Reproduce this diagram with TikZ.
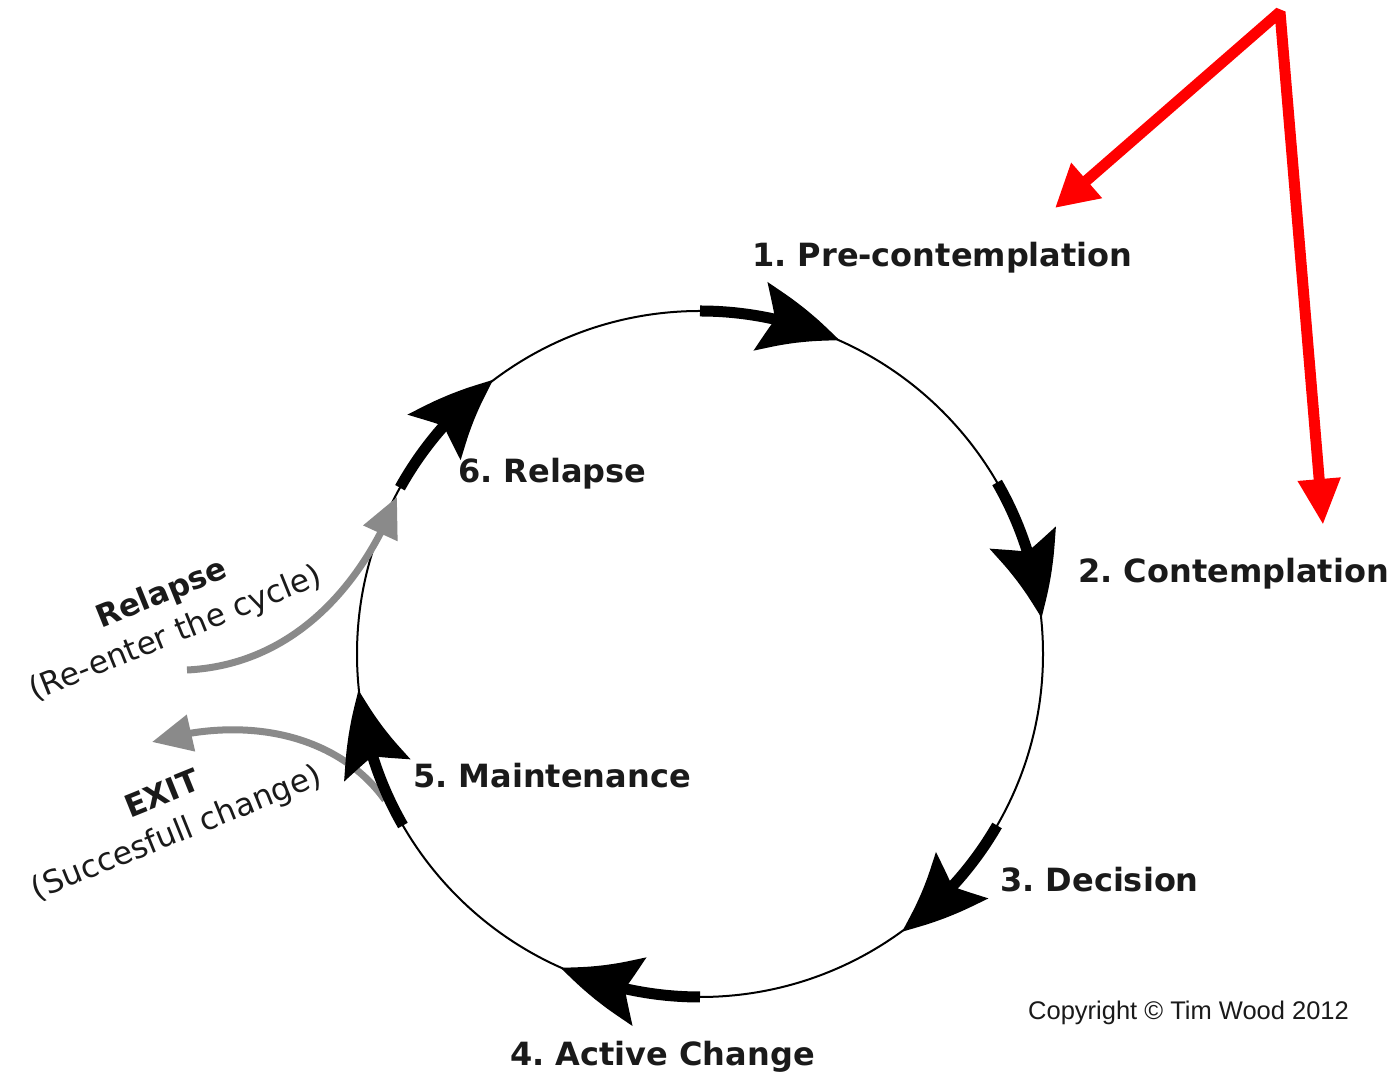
\documentclass[tikz,border=0pt]{standalone}
\usepackage{fontspec}
\setmainfont{DejaVu Sans}
\newfontfamily\copyfont{Liberation Sans}
\usetikzlibrary{arrows.meta,bending}
\definecolor{arrowgray}{HTML}{8A8A8A}
\definecolor{ink}{HTML}{1A1A1A}
\frenchspacing
\begin{document}
\begin{tikzpicture}[x=1pt,y=1pt,
  lbl/.style={font=\fontsize{32}{38}\selectfont\bfseries, text=ink, anchor=west, inner sep=0pt},
  side/.style={font=\fontsize{31.5}{36}\selectfont, text=ink, inner sep=0pt, rotate=22},
  sidebold/.style={side, font=\fontsize{31}{36}\selectfont\bfseries},
  cycarrow/.style={line width=11pt, line cap=butt, -{Stealth[length=82pt,width=68pt,inset=14pt,bend]}},
  grayarrow/.style={draw=arrowgray, line width=7pt, -{Triangle[length=40pt,width=36pt]}},
  redarrow/.style={draw=red, line width=11pt, line join=bevel, {Triangle[length=42pt,width=44pt]}-{Triangle[length=46pt,width=40pt]}},
]
\useasboundingbox (0,0) rectangle (1394,1075);
\fill[white] (0,0) rectangle (1394,1075);

% the cycle
\node[circle, draw, line width=2pt, minimum size=686pt, inner sep=0pt, outer sep=0pt] (cyc) at (700,421) {};

% gray side arrows
\coordinate (rs) at (187,405);
\coordinate (re) at (397,578);
\draw[grayarrow] (rs) .. controls (290,410) and (360,485) .. (re);
\coordinate (xs) at (385,275);
\coordinate (xe) at (152,333);
\draw[grayarrow] (xs) .. controls (340,338) and (250,362) .. (xe);

% black cycle arrows
\draw[cycarrow] (cyc.90)  arc[start angle=90,  end angle=66,  radius=343pt];
\draw[cycarrow] (cyc.30)  arc[start angle=30,  end angle=6,   radius=343pt];
\draw[cycarrow] (cyc.-30) arc[start angle=-30, end angle=-54, radius=343pt];
\draw[cycarrow] (cyc.-90) arc[start angle=-90, end angle=-114,radius=343pt];
\draw[cycarrow] (cyc.210) arc[start angle=210, end angle=186, radius=343pt];
\draw[cycarrow] (cyc.151) arc[start angle=151, end angle=127, radius=343pt];

% stage labels
\node[lbl] (s1) at (752,817) {1. Pre-contemplation};
\node[lbl] (s2) at (1078,501) {2. Contemplation};
\node[lbl] (s3) at (1000,195) {3. Decision};
\node[lbl] (s4) at (510,18) {4. Active Change};
\node[lbl] (s5) at (413,299) {5. Maintenance};
\node[lbl] (s6) at (458,601) {6. Relapse};

% side labels
\node[sidebold] (rl) at (162,480) {Relapse};
\node[side] (rl2) at (176,441) {(Re-enter the cycle)};
\node[sidebold] (ex) at (162,282) {EXIT};
\node[side] (ex2) at (177,241) {(Succesfull change)};

% copyright
\node[font=\copyfont\fontsize{25.5}{30}\selectfont, text=ink, anchor=west, inner sep=0pt] (cp) at (1028,62) {Copyright \textcopyright{} Tim Wood 2012};

% red arrows
\coordinate (rt) at (1280,1063);
\coordinate (r1) at (1055,867);
\coordinate (r2) at (1323,550);
\draw[redarrow] (r1) -- (rt) -- (r2);
\end{tikzpicture}
\end{document}
